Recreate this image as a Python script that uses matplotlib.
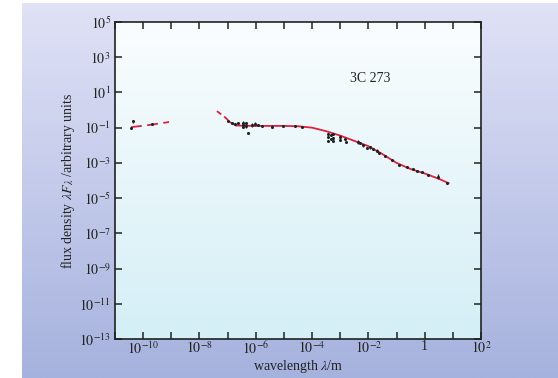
import numpy as np
import matplotlib
matplotlib.use("Agg")
import matplotlib.pyplot as plt

plt.rcParams["font.family"] = "Liberation Serif"
plt.rcParams["mathtext.fontset"] = "stix"

# measured points, log10 of wavelength (m) and log10 of flux (arb.)
lam_log = [-10.36, -10.43, -9.69,
           -6.98, -6.85, -6.74, -6.62, -6.44, -6.44, -6.44, -6.35, -6.35, -6.26,
           -6.14, -6.03, -5.91, -5.79, -5.43, -5.02, -4.61, -4.37,
           -3.42, -3.42, -3.42, -3.34, -3.34, -3.27, -3.27, -3.27, -3.01, -3.01,
           -2.83, -2.79, -2.36, -2.30, -2.18, -2.06, -1.94, -1.85, -1.71, -1.61,
           -1.41, -1.17, -0.90, -0.64, -0.40, -0.28, -0.10, 0.13, 0.48, 0.80]
flux_log = [-0.63, -1.02, -0.80,
            -0.61, -0.72, -0.80, -0.76, -0.72, -0.85, -0.98, -0.76, -0.91, -1.32,
            -0.85, -0.80, -0.85, -0.89, -0.95, -0.91, -0.91, -0.98,
            -1.36, -1.52, -1.74, -1.42, -1.66, -1.36, -1.61, -1.74, -1.52, -1.70,
            -1.66, -1.80, -1.80, -1.89, -1.99, -2.18, -2.12, -2.23, -2.31, -2.43,
            -2.61, -2.84, -3.13, -3.26, -3.37, -3.45, -3.52, -3.69, -3.79, -4.13]
# half error bar in dex (0 = no bar)
err_log = [0.08, 0, 0,
           0, 0, 0, 0, 0.1, 0, 0, 0.1, 0.1, 0,
           0.1, 0.1, 0.08, 0, 0.08, 0, 0, 0,
           0, 0, 0, 0, 0, 0, 0, 0, 0.08, 0,
           0, 0, 0.1, 0, 0.08, 0, 0.1, 0, 0.1, 0,
           0, 0.08, 0, 0, 0, 0, 0, 0, 0.15, 0]

# model curve pieces (log10)
xray_lam_log = [-10.43, -9.75, -9.08]
xray_flux_log = [-0.97, -0.84, -0.68]
uvdash_lam_log = [-7.38, -7.1, -6.9]
uvdash_flux_log = [-0.06, -0.40, -0.70]
curve_lam_log = [-6.9, -6.7, -6.0, -5.0, -4.5, -4.0, -3.5, -3.0, -2.5, -2.0,
                 -1.5, -1.0, -0.5, 0.0, 0.5, 0.85]
curve_flux_log = [-0.70, -0.88, -0.90, -0.90, -0.92, -1.0, -1.2, -1.45, -1.75,
                  -2.05, -2.5, -3.0, -3.35, -3.6, -3.9, -4.15]

red = "#e0203f"

fig = plt.figure(figsize=(5.58, 3.78), dpi=100)

# page background gradient
bg = fig.add_axes([22 / 558, 0, 1 - 22 / 558, 1 - 3 / 378], zorder=-10)
grad = np.linspace(0, 1, 256)[:, None, None]
top = np.array([224, 226, 246]) / 255
bot = np.array([166, 178, 222]) / 255
bg.imshow(top + (bot - top) * grad, aspect="auto", extent=[0, 1, 0, 1])
bg.axis("off")

pos = [115 / 558, 1 - 339 / 378, 366 / 558, 317 / 378]
# plot area gradient
pbg = fig.add_axes(pos, zorder=-5)
ptop = np.array([250, 253, 254]) / 255
pbot = np.array([212, 239, 246]) / 255
pbg.imshow(ptop + (pbot - ptop) * grad, aspect="auto", extent=[0, 1, 0, 1])
pbg.axis("off")

ax = fig.add_axes(pos)
ax.patch.set_alpha(0)
ax.set_xscale("log")
ax.set_yscale("log")

lam = 10.0 ** np.array(lam_log)
flux = 10.0 ** np.array(flux_log)
err = np.array(err_log)
yerr = [flux - flux * 10.0 ** (-err), flux * 10.0 ** err - flux]

ax.plot(10.0 ** np.array(xray_lam_log), 10.0 ** np.array(xray_flux_log),
        color=red, lw=1.3, dashes=(6, 3))
ax.plot(10.0 ** np.array(uvdash_lam_log), 10.0 ** np.array(uvdash_flux_log),
        color=red, lw=1.3, dashes=(3, 2))
ax.plot(10.0 ** np.array(curve_lam_log), 10.0 ** np.array(curve_flux_log),
        color=red, lw=1.3)
ax.errorbar(lam, flux, yerr=yerr, fmt="o", ms=1.2, color="#222222",
            elinewidth=0.9, capsize=0, zorder=3)

ax.set_xlim(1e-11, 1e2)
ax.set_ylim(1e-13, 1e5)

xt = 10.0 ** np.arange(-11, 3)
xl = []
for e in range(-11, 3):
    if e % 2:
        xl.append("")
    elif e == 0:
        xl.append("1")
    else:
        xl.append(r"$10^{%d}$" % e)
ax.set_xticks(xt)
ax.set_xticklabels(xl)
yt = 10.0 ** np.arange(-13, 6, 2)
ax.set_yticks(yt)
ax.set_yticklabels([r"$10^{%d}$" % e for e in range(-13, 6, 2)])
ax.minorticks_off()
ax.tick_params(which="major", direction="in", length=5, width=1.1,
               top=True, right=True, labelsize=10, pad=3, colors="#222222")
ax.tick_params(axis="x", pad=1)

for s in ax.spines.values():
    s.set_linewidth(1.2)
    s.set_color("#222222")

ax.text(10 ** -1.94, 10 ** 1.82, "3C 273", ha="center", va="center",
        fontsize=10, color="#222222")
ax.set_xlabel(r"wavelength $\lambda$/m", fontsize=10, color="#222222")
ax.xaxis.set_label_coords(0.5, -0.086)
ax.xaxis.label.set_va("center")
ax.set_ylabel(r"flux density $\lambda F_\lambda$ /arbitrary units", fontsize=10,
              color="#222222")
ax.yaxis.set_label_coords(-0.128, 0.5)
ax.yaxis.label.set_va("center")

fig.savefig("out.png", dpi=100)
